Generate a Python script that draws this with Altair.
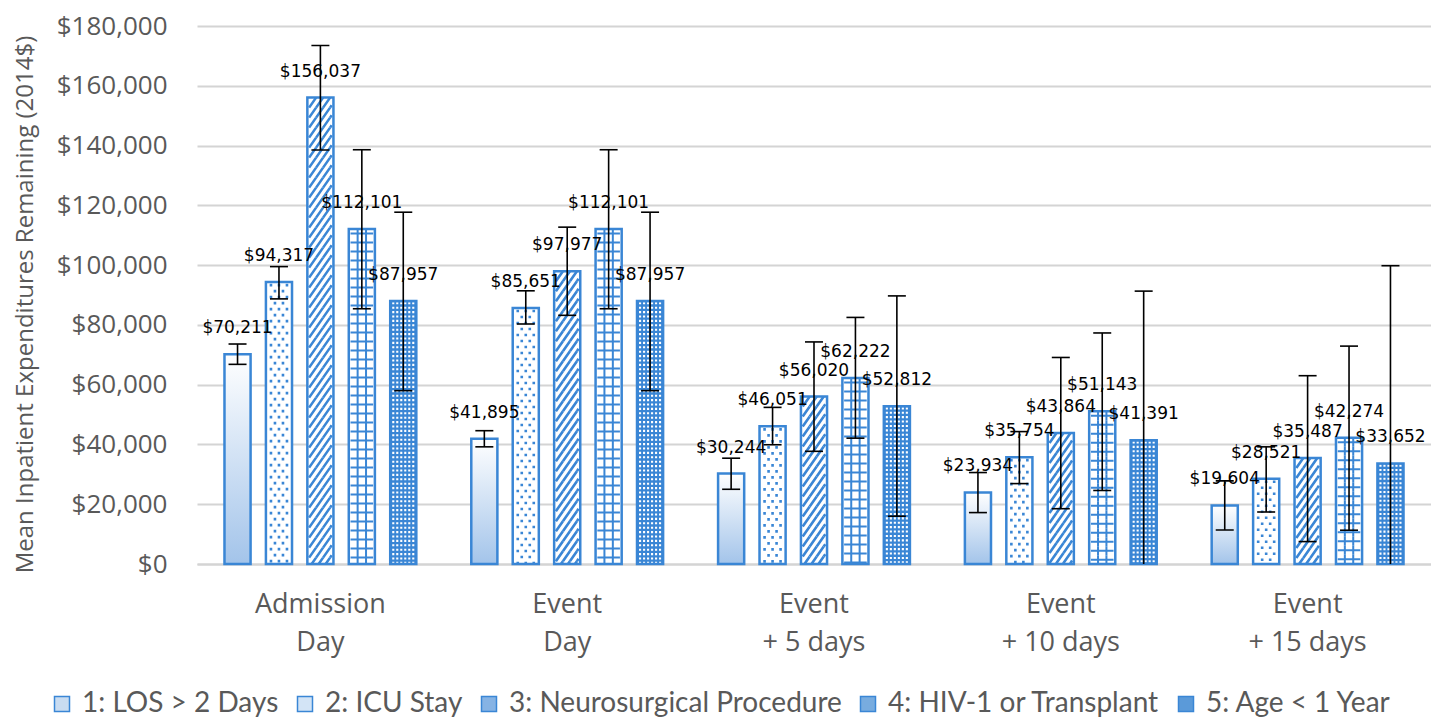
import altair as alt
import pandas as pd

# ---------------- data ----------------
# the single ordinary space in each category marks the label line break
categories = ["Admission Day", "Event Day", "Event +\u00a05\u00a0days",
              "Event +\u00a010\u00a0days", "Event +\u00a015\u00a0days"]
series = ["1: LOS > 2 Days", "2: ICU Stay", "3: Neurosurgical Procedure",
          "4: HIV-1 or Transplant", "5: Age < 1 Year"]

los_mean = [70211, 41895, 30244, 23934, 19604]
icu_mean = [94317, 85651, 46051, 35754, 28521]
neuro_mean = [156037, 97977, 56020, 43864, 35487]
hiv_mean = [112101, 112101, 62222, 51143, 42274]
age_mean = [87957, 87957, 52812, 41391, 33652]

los_low = [66800, 39200, 25000, 17200, 11400]
los_high = [73600, 44600, 35400, 30600, 27800]
icu_low = [88700, 80300, 39900, 26900, 17400]
icu_high = [99500, 91400, 52400, 44300, 39200]
neuro_low = [138500, 83200, 37700, 18500, 7500]
neuro_high = [173500, 112700, 74300, 69100, 63000]
hiv_low = [85400, 85400, 42100, 24600, 11300]
hiv_high = [138600, 138600, 82500, 77300, 72900]
age_low = [58000, 58000, 16000, 0, 0]
age_high = [117700, 117700, 89700, 91300, 99800]

means = [los_mean, icu_mean, neuro_mean, hiv_mean, age_mean]
lows = [los_low, icu_low, neuro_low, hiv_low, age_low]
highs = [los_high, icu_high, neuro_high, hiv_high, age_high]

rows = []
for si, s in enumerate(series):
    for ci, c in enumerate(categories):
        rows.append({"category": c, "series": s, "value": means[si][ci],
                     "lo": lows[si][ci], "hi": highs[si][ci]})
df = pd.DataFrame(rows)

# ---------------- layout / style ----------------
PAD_L, PAD_T = 189, 18
PLOT_W, PLOT_H = 1234, 538
YMAX = 180000
BLUE = "#3a86d5"
GREY = "#595959"
GRID = "#d4d4d4"
UNIT = YMAX / PLOT_H  # data units per pixel

x_axis = alt.Axis(title=None, labelAngle=0, labelFontSize=27, labelPadding=27,
                  labelLineHeight=38, ticks=False, tickSize=0, domain=True,
                  domainColor=GRID, domainWidth=2,
                  labelExpr="split(datum.label, ' ')")
y_axis = alt.Axis(values=list(range(0, YMAX + 1, 20000)), format="$,.0f",
                  labelFontSize=26, labelPadding=30, ticks=False, tickSize=0,
                  domain=False, grid=True, gridColor=GRID, gridWidth=2,
                  title="Mean Inpatient Expenditures Remaining (2014$)",
                  titleFont="Open Sans", titleFontSize=24, titleFontWeight="normal",
                  titleColor=GREY, titleX=-172, titleY=278, titleAngle=270,
                  titleAlign="center", titleBaseline="middle")

xscale = alt.Scale(domain=categories, paddingInner=0.1606, paddingOuter=0.0803)
xenc = alt.X("category:N", sort=categories, scale=xscale, axis=x_axis)
xoff = alt.XOffset("series:N", sort=series,
                   scale=alt.Scale(domain=series, paddingInner=0.37, paddingOuter=0.185))
yscale = alt.Scale(domain=[0, YMAX], nice=False, zero=True)


def yenc(field):
    return alt.Y(field, scale=yscale, axis=y_axis)


base = alt.Chart(df)

# bar fills (white, the dense-pattern series solid blue underneath its white dots)
fills = base.mark_bar(strokeWidth=0).encode(
    x=xenc, xOffset=xoff, y=yenc("value:Q"),
    fill=alt.condition(alt.datum.series == series[4], alt.value(BLUE), alt.value("white")),
)

grad = base.transform_filter(alt.datum.series == series[0]).mark_bar(
    strokeWidth=0,
    color=alt.Gradient(gradient="linear",
                       stops=[alt.GradientStop(color="#ffffff", offset=0),
                              alt.GradientStop(color="#a3c4ea", offset=1)],
                       x1=0, x2=0, y1=0, y2=1),
).encode(x=xenc, xOffset=xoff, y=yenc("value:Q"))

# ---------------- pattern tiles (glyph shapes, px units with size=4) ----------------
HX = 11.3


def f(v):
    return f"{v:.2f}"


def stripes_path(P=7.0, H=10.0):
    parts = []
    x0 = -HX - 2 * P
    while x0 < HX + P:
        tmin = max(0.0, (-HX - x0) / P)
        tmax = min(1.0, (HX - x0) / P)
        if tmax > tmin:
            xa, ya = x0 + tmin * P, H / 2 - tmin * H
            xb, yb = x0 + tmax * P, H / 2 - tmax * H
            parts.append(f"M{f(xa)},{f(ya)}L{f(xb)},{f(yb)}")
        x0 += P
    return "".join(parts)


def squares_path(points, s):
    return "".join(f"M{f(x - s / 2)},{f(y - s / 2)}h{f(s)}v{f(s)}h{f(-s)}Z" for x, y in points)


H_STRIPE = 10.0
H_DOT = 12.0
H_GRID = 9.0
H_FINE = 4.4

stripe_shape = stripes_path(7.0, H_STRIPE)
dot_shape = squares_path([(-8, -3), (0, -3), (8, -3), (-4, 3), (4, 3)], 2.6)
grid_shape = (f"M-4.2,{f(-H_GRID/2)}V{f(H_GRID/2)}M4.2,{f(-H_GRID/2)}V{f(H_GRID/2)}"
              f"M{f(-HX)},0H{f(HX)}")
fine_shape = squares_path([(x, 0) for x in (-10, -6, -2, 2, 6, 10)], 2.1)


def tiles(sname, shape, tile_px, filled, color, sw):
    step = tile_px * UNIT
    mk = dict(shape=shape, size=4, clip=True, opacity=1, filled=filled)
    if filled:
        mk.update(fill=color, strokeWidth=0)
    else:
        mk.update(stroke=color, strokeWidth=sw)
    return (base.transform_filter(alt.datum.series == sname)
            .transform_calculate(k=f"sequence(0, ceil(datum.value / {step:.4f}))")
            .transform_flatten(["k"])
            .transform_calculate(yc=f"datum.value - {step/2:.4f} - datum.k * {step:.4f}")
            .mark_point(**mk)
            .encode(x=xenc, xOffset=xoff, y=yenc("yc:Q")))


pat_dots = tiles(series[1], dot_shape, H_DOT, True, BLUE, 0)
pat_stripes = tiles(series[2], stripe_shape, H_STRIPE, False, BLUE, 2.6)
pat_grid = tiles(series[3], grid_shape, H_GRID, False, BLUE, 2.0)
pat_fine = tiles(series[4], fine_shape, H_FINE, True, "white", 0)

outline = base.mark_bar(fillOpacity=0, stroke=BLUE, strokeWidth=2.5).encode(
    x=xenc, xOffset=xoff, y=yenc("value:Q"))

# error bars
err_rule = base.mark_rule(color="black", strokeWidth=1.6).encode(
    x=xenc, xOffset=xoff, y=yenc("lo:Q"), y2="hi:Q")
cap_hi = base.mark_tick(color="black", thickness=1.6, size=18, opacity=1).encode(
    x=xenc, xOffset=xoff, y=yenc("hi:Q"))
cap_lo = base.transform_filter(alt.datum.lo > 0).mark_tick(
    color="black", thickness=1.6, size=18, opacity=1).encode(
    x=xenc, xOffset=xoff, y=yenc("lo:Q"))

labels = base.mark_text(font="DejaVu Sans", fontSize=17, color="black",
                        baseline="alphabetic", dy=-21).encode(
    x=xenc, xOffset=xoff, y=yenc("value:Q"),
    text=alt.Text("value:Q", format="$,.0f"))

# legend carrier: no marks drawn (empty after filter), entries come from the scale domain
legend_colors = ["#c9dcf1", "#d3e4f6", "#86b3e4", "#78acdf", "#5b9ad9"]
legend_layer = base.transform_filter("datum.value < 0").mark_square(
    size=225, stroke=BLUE, strokeWidth=1.5, opacity=1).encode(
    x=xenc, xOffset=xoff, y=yenc("value:Q"),
    color=alt.Color("series:N", sort=series,
                    scale=alt.Scale(domain=series, range=legend_colors),
                    legend=alt.Legend(title=None, orient="none", direction="horizontal",
                                      legendX=-149, legendY=664, symbolType="square",
                                      symbolSize=225, symbolStrokeColor=BLUE,
                                      symbolStrokeWidth=1.5,
                                      labelFont="Lato", labelFontSize=28,
                                      labelColor=GREY, labelLimit=800,
                                      columnPadding=12, labelOffset=6)))

chart = alt.layer(fills, grad, pat_dots, pat_stripes, pat_grid, pat_fine, outline,
                  err_rule, cap_hi, cap_lo, labels, legend_layer).properties(
    width=PLOT_W, height=PLOT_H,
    padding={"left": PAD_L, "top": PAD_T, "right": 0, "bottom": 711 - PAD_T - PLOT_H},
    autosize=alt.AutoSizeParams(type="none"),
).configure_view(stroke=None).configure_axis(
    labelFont="Open Sans", labelColor=GREY)

chart.save("out.html", embed_options={"renderer": "svg", "actions": False})
